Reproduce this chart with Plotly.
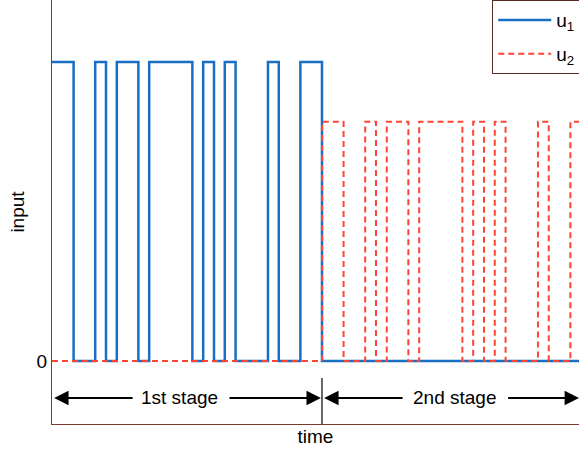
import plotly.graph_objects as go

# switching instants (time units) and input levels
t1 = [0, 2, 4, 5, 6, 8, 9, 13, 14, 15, 16, 17, 20, 21, 23, 25, 50]
u1 = [1, 0, 1, 0, 1, 0, 1, 0, 1, 0, 1, 0, 1, 0, 1, 0, 0]
t2 = [0, 25, 27, 29, 30, 31, 33, 34, 38, 39, 40, 41, 42, 45, 46, 48, 50]
u2 = [0, 0.8, 0, 0.8, 0, 0.8, 0, 0.8, 0, 0.8, 0, 0.8, 0, 0.8, 0, 0.8, 0.8]

stage_boundary = 25
stage_labels = ["1st stage", "2nd stage"]
y_ticks = [0]
y_ticklabels = ["0"]

FONT = "Liberation Sans, Arial, Helvetica, sans-serif"
AX = "#7a3a2c"
BLUE = "#1a6fc4"
RED = "#ff4433"

fig = go.Figure()
fig.add_trace(go.Scatter(x=t1, y=u1, mode="lines", line=dict(shape="hv", color=BLUE, width=2.5),
                         name="u<sub>1</sub>", legendgroup="a"))
fig.add_trace(go.Scatter(x=t2, y=u2, mode="lines", line=dict(shape="hv", color=RED, width=2, dash="6px,4px"),
                         name="u<sub>2</sub>", legendgroup="b"))

xmax = 48.8
ymin, ymax = -0.211, 1.207
ya = -0.124  # arrow row

# divider line
fig.add_shape(type="line", xref="x", yref="y", x0=stage_boundary, x1=stage_boundary, y0=ymin, y1=-0.057,
              line=dict(color="black", width=1.2))

# stage labels
fig.add_annotation(x=11.8, y=ya, text=stage_labels[0], showarrow=False, font=dict(size=19, color="black", family=FONT))
fig.add_annotation(x=37.3, y=ya, text=stage_labels[1], showarrow=False, font=dict(size=19, color="black", family=FONT))

def arrow(x_from, x_to):
    fig.add_annotation(x=x_to, y=ya, ax=x_from, ay=ya, xref="x", yref="y", axref="x", ayref="y",
                       text="", showarrow=True, arrowhead=2, arrowsize=1.6, arrowwidth=1.8, arrowcolor="black")

arrow(7.6, 0.2)
arrow(16.3, 24.9)
arrow(32.6, 25.2)
arrow(42.1, 48.8)

fig.update_layout(
    width=579, height=454,
    margin=dict(l=52, r=0, t=0, b=30, autoexpand=False),
    plot_bgcolor="white", paper_bgcolor="white",
    font=dict(family=FONT, size=19, color="black"),
    showlegend=True,
    legend=dict(x=0.835, xanchor="left", y=1.0, yanchor="top", bgcolor="white",
                bordercolor="#5a2a1c", borderwidth=1.2, font=dict(size=19, family=FONT),
                traceorder="grouped", tracegroupgap=6, itemwidth=53),
    xaxis=dict(range=[0, xmax], showgrid=False, zeroline=False, showticklabels=False, ticks="",
               showline=True, linecolor=AX, linewidth=1.2,
               title=dict(text="time", standoff=5, font=dict(size=19))),
    yaxis=dict(range=[ymin, ymax], showgrid=False, zeroline=False, tickvals=y_ticks, ticktext=y_ticklabels,
               ticks="", showline=True, linecolor=AX, linewidth=1.2, tickfont=dict(size=19),
               title=dict(text="input", standoff=6, font=dict(size=19))),
)

fig.write_html("out.html")
